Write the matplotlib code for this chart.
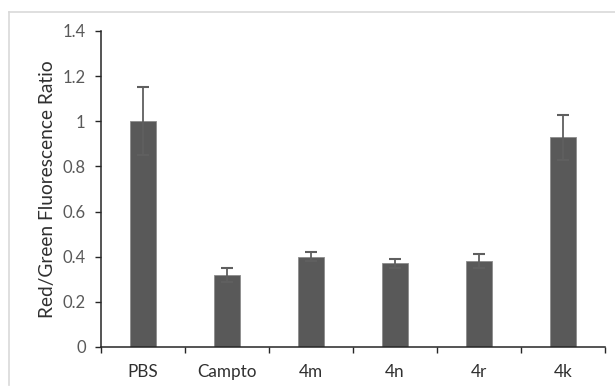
import matplotlib
matplotlib.use("Agg")
import matplotlib.pyplot as plt
from matplotlib.lines import Line2D

groups = ["PBS", "Campto", "4m", "4n", "4r", "4k"]
ratio = [1.00, 0.32, 0.40, 0.37, 0.38, 0.93]
ratio_err = [0.15, 0.03, 0.02, 0.02, 0.03, 0.10]
y_ticks = [0, 0.2, 0.4, 0.6, 0.8, 1.0, 1.2, 1.4]
y_tick_labels = ["0", "0.2", "0.4", "0.6", "0.8", "1", "1.2", "1.4"]

plt.rcParams["font.family"] = ["Lato", "DejaVu Sans"]

fig = plt.figure(figsize=(6.15, 3.87), dpi=100)
ax = fig.add_axes([0.1642, 0.1034, 0.8195, 0.8165])

x = list(range(len(groups)))
ax.bar(x, ratio, width=0.31, color="#595959", edgecolor="#8c8c8c", linewidth=0.6, zorder=2)
ax.errorbar(x, ratio, yerr=ratio_err, fmt="none", ecolor="#5f5f5f",
            elinewidth=1.3, capsize=4.2, capthick=1.5, zorder=3)

ax.set_xlim(-0.5, len(groups) - 0.5)
ax.set_ylim(0, 1.4)
ax.set_yticks(y_ticks)
ax.set_yticklabels(y_tick_labels)
ax.set_xticks(x)
ax.set_xticklabels(groups)
# category boundary ticks, as in a spreadsheet chart
ax.set_xticks([i - 0.5 for i in range(len(groups) + 1)], minor=True)
ax.tick_params(axis="x", which="major", length=0, pad=12, labelsize=12.3, labelcolor="#303030")
ax.tick_params(axis="x", which="minor", length=4, width=1, color="#262626", direction="out")
ax.tick_params(axis="y", length=4, width=1, color="#262626", pad=7, labelsize=12,
               labelcolor="#595959")

for side in ["top", "right"]:
    ax.spines[side].set_visible(False)
for side in ["left", "bottom"]:
    ax.spines[side].set_color("#262626")
    ax.spines[side].set_linewidth(1.1)

ax.set_ylabel("Red/Green Fluorescence Ratio", fontsize=13.8, color="#303030", labelpad=5)

# light chart-area frame along the left and top edges
bx = 8.5 / 615
fig.add_artist(Line2D([bx, bx], [1 - 385 / 387, 1 - 11.5 / 387], transform=fig.transFigure,
                      color="#d9d9d9", linewidth=1.2))
fig.add_artist(Line2D([bx, 1.0], [1 - 11.5 / 387, 1 - 11.5 / 387], transform=fig.transFigure,
                      color="#d9d9d9", linewidth=1.2))

fig.savefig("out.png", dpi=100, facecolor="white")
plt.close(fig)
